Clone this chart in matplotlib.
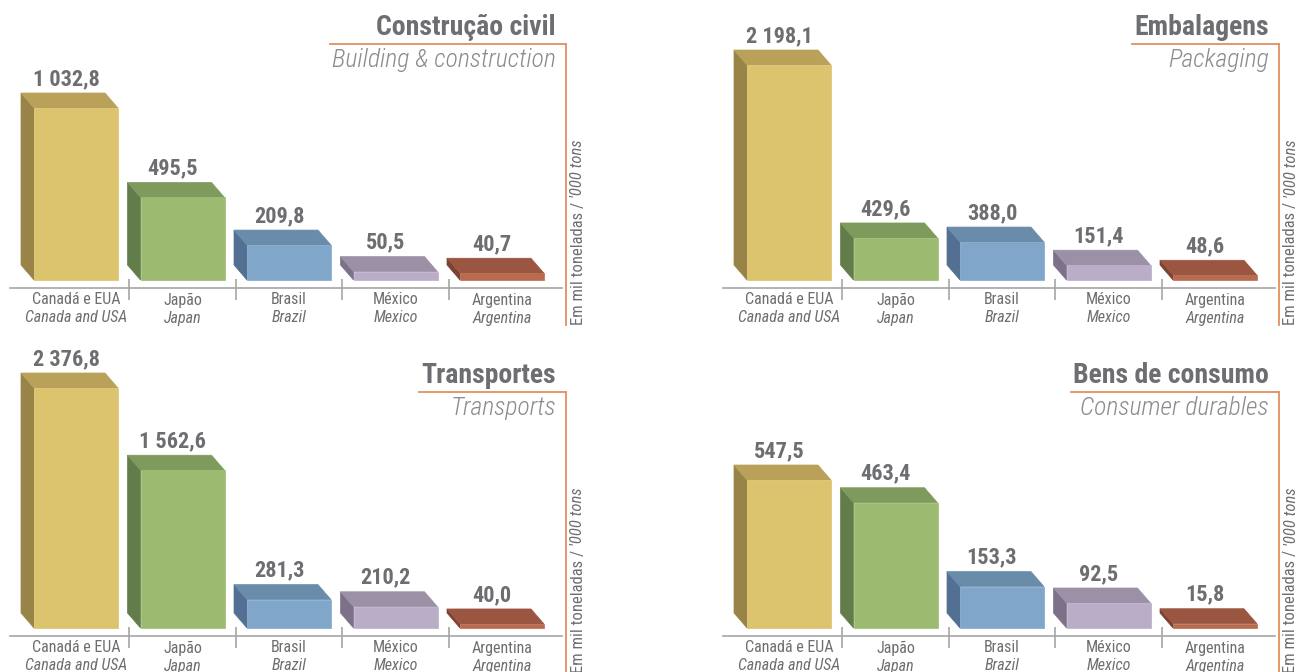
import numpy as np
import matplotlib.pyplot as plt
from matplotlib.patches import Polygon
from matplotlib.lines import Line2D

plt.rcParams['font.family'] = ['Roboto Condensed', 'DejaVu Sans']

countries_pt = ['Canadá e EUA', 'Japão', 'Brasil', 'México', 'Argentina']
countries_en = ['Canada and USA', 'Japan', 'Brazil', 'Mexico', 'Argentina']

titles_pt = ['Construção civil', 'Embalagens', 'Transportes', 'Bens de consumo']
titles_en = ['Building & construction', 'Packaging', 'Transports', 'Consumer durables']

construcao = [1032.8, 495.5, 209.8, 50.5, 40.7]
embalagens = [2198.1, 429.6, 388.0, 151.4, 48.6]
transportes = [2376.8, 1562.6, 281.3, 210.2, 40.0]
bens_consumo = [547.5, 463.4, 153.3, 92.5, 15.8]
series = [construcao, embalagens, transportes, bens_consumo]

unit_pt = 'Em mil toneladas / '
unit_en = "'000 tons"

front_c = ['#DCC36E', '#9CBB71', '#80A7CA', '#BAADC8', '#B86B4E']
top_c = ['#B9A15A', '#7E9A5C', '#6A8CAB', '#9C90A6', '#9A5640']
side_c = ['#978446', '#637D4A', '#537092', '#7D7189', '#7A4231']
gray = '#6D6E71'
light_gray = '#8A8B8E'
orange = '#E0905E'

W, H = 1298, 672
fig = plt.figure(figsize=(W / 100, H / 100), dpi=100)
fig.patch.set_facecolor('white')


def fx(px):
    return px / W


def fy(py):
    return 1 - py / H


# panel offsets (pixels) and height of the tallest bar (pixels)
offsets = [(0, 0), (713, 0), (0, 348), (713, 348)]
max_h = [172, 215, 240, 148]
step = 106.5      # px between categories
first = 76        # px of first category centre
hw = 42 / step    # half bar width
depth_x, depth_y = 13, 15

renderer = fig.canvas.get_renderer()

for i, vals in enumerate(series):
    ox, oy = offsets[i]
    s = max_h[i] / max(vals)           # px per unit
    ax = fig.add_axes([fx(ox + 10), fy(oy + 288), 552 / W, 248 / H])
    ax.set_xlim((10 - first) / step, (562 - first) / step)
    ax.set_ylim(-8 / s, 240 / s)
    for side in ['top', 'right', 'left']:
        ax.spines[side].set_visible(False)
    ax.spines['bottom'].set_color('#A5A5A7')
    ax.spines['bottom'].set_linewidth(1.2)
    ax.set_xticks([])
    ax.set_yticks([])
    ax.patch.set_alpha(0)

    ddx = depth_x / step
    ddy = depth_y / s
    for k, v in enumerate(vals):
        l, r = k - hw, k + hw
        front = [(l, 0), (r, 0), (r, v), (l, v)]
        sidef = [(l, 0), (l, v), (l - ddx, v + ddy), (l - ddx, ddy)]
        topf = [(l, v), (r, v), (r - ddx, v + ddy), (l - ddx, v + ddy)]
        for pts, col in [(sidef, side_c[k]), (topf, top_c[k]), (front, front_c[k])]:
            ax.add_patch(Polygon(pts, closed=True, facecolor=col, edgecolor=col,
                                 lw=0.5, clip_on=False))
        lab = f'{v:,.1f}'.replace(',', ' ').replace('.', ',')
        ax.annotate(lab, xy=(k, v), xytext=(-10, depth_y + 8), textcoords='offset pixels',
                    ha='center', va='baseline', fontsize=16, fontweight='bold',
                    color=gray, annotation_clip=False)
        ax.annotate(countries_pt[k], xy=(k, -8 / s), xytext=(0, -12),
                    textcoords='offset pixels', ha='center', va='center',
                    fontsize=11.5, color=gray, annotation_clip=False)
        ax.annotate(countries_en[k], xy=(k, -8 / s), xytext=(0, -30),
                    textcoords='offset pixels', ha='center', va='center',
                    fontsize=11.5, style='italic', color=gray, annotation_clip=False)

    # separators between categories
    ax.vlines(np.arange(len(vals) - 1) + 0.5, (-8 - 12) / s, (-8 + 9) / s,
              color='#A5A5A7', lw=1.2, clip_on=False)

    # titles
    t1 = fig.text(fx(ox + 556), fy(oy + 35), titles_pt[i], ha='right', va='baseline',
                  fontsize=20, fontweight='bold', color=gray)
    t2 = fig.text(fx(ox + 556), fy(oy + 67), titles_en[i], ha='right', va='baseline',
                  fontsize=18.5, style='italic', fontweight='light', color=light_gray)
    left = min(t1.get_window_extent(renderer).x0, t2.get_window_extent(renderer).x0) - 2
    fig.add_artist(Line2D([left / W, fx(ox + 566)], [fy(oy + 44), fy(oy + 44)],
                          transform=fig.transFigure, color=orange, lw=1.3))
    fig.add_artist(Line2D([fx(ox + 566), fx(ox + 566)], [fy(oy + 44), fy(oy + 325)],
                          transform=fig.transFigure, color=orange, lw=1.3))

    # unit
    u1 = fig.text(fx(ox + 578), fy(oy + 325), unit_pt, rotation=90, ha='center',
                  va='bottom', fontsize=12, color=gray)
    ax.annotate(unit_en, xy=(0.5, 1), xycoords=u1, rotation=90, ha='center',
                va='bottom', fontsize=12, style='italic', color=gray,
                annotation_clip=False)

fig.savefig('out.png', dpi=100, facecolor='white')
